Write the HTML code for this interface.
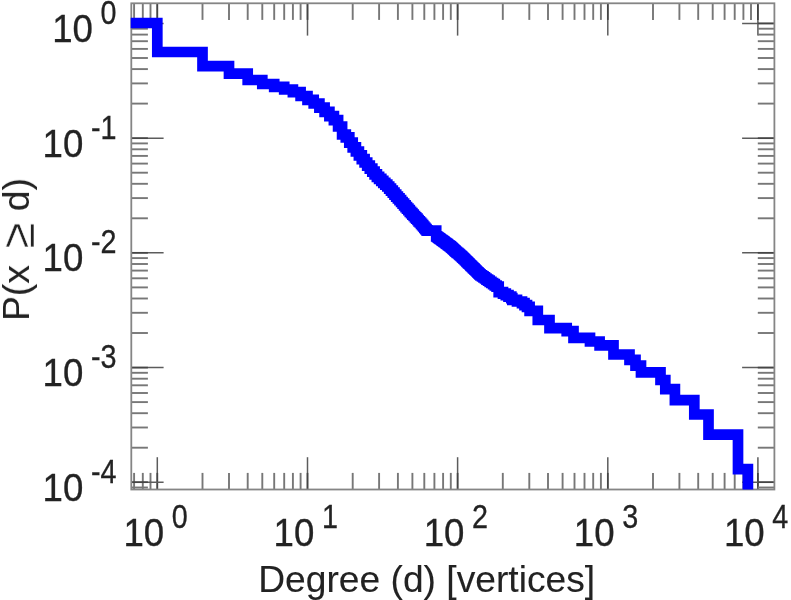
<!DOCTYPE html>
<html><head><meta charset="utf-8"><title>Degree distribution</title>
<style>
html,body{margin:0;padding:0;background:#fff;}
body{width:791px;height:600px;overflow:hidden;}
svg{display:block;}
text{font-family:"Liberation Sans",sans-serif;fill:#222;}
.tl{font-size:39.0px;stroke:#222;stroke-width:0.3px;}
.sp{font-size:32.3px;stroke:#222;stroke-width:0.3px;}
.ax{font-size:37.2px;stroke:#222;stroke-width:0.1px;}
.ge{font-size:47px;stroke:#fff;stroke-width:0.5px;}
.mj{stroke:#5c5c5c;stroke-width:1.5;}
.mo{stroke:#444;stroke-width:1.7;}
.mn{stroke:#777;stroke-width:1.9;}
.fr{fill:none;stroke:#858585;stroke-width:1.8;}
.ln{fill:none;stroke:#0000ff;stroke-width:10.7;stroke-linejoin:miter;stroke-miterlimit:10;stroke-linecap:butt;}
</style></head><body>
<svg width="791" height="600" viewBox="0 0 791 600">
<defs><filter id="b" filterUnits="userSpaceOnUse" x="0" y="0" width="791" height="600"><feGaussianBlur stdDeviation="0.4"/></filter><filter id="b2" filterUnits="userSpaceOnUse" x="0" y="0" width="791" height="600"><feGaussianBlur stdDeviation="0.55"/></filter><clipPath id="c"><rect x="130.7" y="3.3" width="643.7" height="486.2"/></clipPath></defs>
<rect width="791" height="600" fill="#fff"/>
<g filter="url(#b2)">
<line x1="134.1" y1="489.5" x2="134.1" y2="472.9" class="mn"/>
<line x1="134.1" y1="3.3" x2="134.1" y2="19.9" class="mn"/>
<line x1="142.8" y1="489.5" x2="142.8" y2="472.9" class="mn"/>
<line x1="142.8" y1="3.3" x2="142.8" y2="19.9" class="mn"/>
<line x1="150.5" y1="489.5" x2="150.5" y2="472.9" class="mn"/>
<line x1="150.5" y1="3.3" x2="150.5" y2="19.9" class="mn"/>
<line x1="157.3" y1="489.5" x2="157.3" y2="457.2" class="mj"/>
<line x1="157.3" y1="3.3" x2="157.3" y2="35.6" class="mj"/>
<line x1="157.3" y1="489.5" x2="157.3" y2="472.9" class="mo"/>
<line x1="157.3" y1="3.3" x2="157.3" y2="19.9" class="mo"/>
<line x1="202.5" y1="489.5" x2="202.5" y2="472.9" class="mn"/>
<line x1="202.5" y1="3.3" x2="202.5" y2="19.9" class="mn"/>
<line x1="229.0" y1="489.5" x2="229.0" y2="472.9" class="mn"/>
<line x1="229.0" y1="3.3" x2="229.0" y2="19.9" class="mn"/>
<line x1="247.7" y1="489.5" x2="247.7" y2="472.9" class="mn"/>
<line x1="247.7" y1="3.3" x2="247.7" y2="19.9" class="mn"/>
<line x1="262.3" y1="489.5" x2="262.3" y2="472.9" class="mn"/>
<line x1="262.3" y1="3.3" x2="262.3" y2="19.9" class="mn"/>
<line x1="274.2" y1="489.5" x2="274.2" y2="472.9" class="mn"/>
<line x1="274.2" y1="3.3" x2="274.2" y2="19.9" class="mn"/>
<line x1="284.2" y1="489.5" x2="284.2" y2="472.9" class="mn"/>
<line x1="284.2" y1="3.3" x2="284.2" y2="19.9" class="mn"/>
<line x1="292.9" y1="489.5" x2="292.9" y2="472.9" class="mn"/>
<line x1="292.9" y1="3.3" x2="292.9" y2="19.9" class="mn"/>
<line x1="300.6" y1="489.5" x2="300.6" y2="472.9" class="mn"/>
<line x1="300.6" y1="3.3" x2="300.6" y2="19.9" class="mn"/>
<line x1="307.5" y1="489.5" x2="307.5" y2="457.2" class="mj"/>
<line x1="307.5" y1="3.3" x2="307.5" y2="35.6" class="mj"/>
<line x1="307.5" y1="489.5" x2="307.5" y2="472.9" class="mo"/>
<line x1="307.5" y1="3.3" x2="307.5" y2="19.9" class="mo"/>
<line x1="352.7" y1="489.5" x2="352.7" y2="472.9" class="mn"/>
<line x1="352.7" y1="3.3" x2="352.7" y2="19.9" class="mn"/>
<line x1="379.1" y1="489.5" x2="379.1" y2="472.9" class="mn"/>
<line x1="379.1" y1="3.3" x2="379.1" y2="19.9" class="mn"/>
<line x1="397.9" y1="489.5" x2="397.9" y2="472.9" class="mn"/>
<line x1="397.9" y1="3.3" x2="397.9" y2="19.9" class="mn"/>
<line x1="412.4" y1="489.5" x2="412.4" y2="472.9" class="mn"/>
<line x1="412.4" y1="3.3" x2="412.4" y2="19.9" class="mn"/>
<line x1="424.3" y1="489.5" x2="424.3" y2="472.9" class="mn"/>
<line x1="424.3" y1="3.3" x2="424.3" y2="19.9" class="mn"/>
<line x1="434.4" y1="489.5" x2="434.4" y2="472.9" class="mn"/>
<line x1="434.4" y1="3.3" x2="434.4" y2="19.9" class="mn"/>
<line x1="443.1" y1="489.5" x2="443.1" y2="472.9" class="mn"/>
<line x1="443.1" y1="3.3" x2="443.1" y2="19.9" class="mn"/>
<line x1="450.8" y1="489.5" x2="450.8" y2="472.9" class="mn"/>
<line x1="450.8" y1="3.3" x2="450.8" y2="19.9" class="mn"/>
<line x1="457.6" y1="489.5" x2="457.6" y2="457.2" class="mj"/>
<line x1="457.6" y1="3.3" x2="457.6" y2="35.6" class="mj"/>
<line x1="457.6" y1="489.5" x2="457.6" y2="472.9" class="mo"/>
<line x1="457.6" y1="3.3" x2="457.6" y2="19.9" class="mo"/>
<line x1="502.8" y1="489.5" x2="502.8" y2="472.9" class="mn"/>
<line x1="502.8" y1="3.3" x2="502.8" y2="19.9" class="mn"/>
<line x1="529.3" y1="489.5" x2="529.3" y2="472.9" class="mn"/>
<line x1="529.3" y1="3.3" x2="529.3" y2="19.9" class="mn"/>
<line x1="548.0" y1="489.5" x2="548.0" y2="472.9" class="mn"/>
<line x1="548.0" y1="3.3" x2="548.0" y2="19.9" class="mn"/>
<line x1="562.6" y1="489.5" x2="562.6" y2="472.9" class="mn"/>
<line x1="562.6" y1="3.3" x2="562.6" y2="19.9" class="mn"/>
<line x1="574.5" y1="489.5" x2="574.5" y2="472.9" class="mn"/>
<line x1="574.5" y1="3.3" x2="574.5" y2="19.9" class="mn"/>
<line x1="584.5" y1="489.5" x2="584.5" y2="472.9" class="mn"/>
<line x1="584.5" y1="3.3" x2="584.5" y2="19.9" class="mn"/>
<line x1="593.2" y1="489.5" x2="593.2" y2="472.9" class="mn"/>
<line x1="593.2" y1="3.3" x2="593.2" y2="19.9" class="mn"/>
<line x1="600.9" y1="489.5" x2="600.9" y2="472.9" class="mn"/>
<line x1="600.9" y1="3.3" x2="600.9" y2="19.9" class="mn"/>
<line x1="607.8" y1="489.5" x2="607.8" y2="457.2" class="mj"/>
<line x1="607.8" y1="3.3" x2="607.8" y2="35.6" class="mj"/>
<line x1="607.8" y1="489.5" x2="607.8" y2="472.9" class="mo"/>
<line x1="607.8" y1="3.3" x2="607.8" y2="19.9" class="mo"/>
<line x1="653.0" y1="489.5" x2="653.0" y2="472.9" class="mn"/>
<line x1="653.0" y1="3.3" x2="653.0" y2="19.9" class="mn"/>
<line x1="679.4" y1="489.5" x2="679.4" y2="472.9" class="mn"/>
<line x1="679.4" y1="3.3" x2="679.4" y2="19.9" class="mn"/>
<line x1="698.2" y1="489.5" x2="698.2" y2="472.9" class="mn"/>
<line x1="698.2" y1="3.3" x2="698.2" y2="19.9" class="mn"/>
<line x1="712.7" y1="489.5" x2="712.7" y2="472.9" class="mn"/>
<line x1="712.7" y1="3.3" x2="712.7" y2="19.9" class="mn"/>
<line x1="724.6" y1="489.5" x2="724.6" y2="472.9" class="mn"/>
<line x1="724.6" y1="3.3" x2="724.6" y2="19.9" class="mn"/>
<line x1="734.7" y1="489.5" x2="734.7" y2="472.9" class="mn"/>
<line x1="734.7" y1="3.3" x2="734.7" y2="19.9" class="mn"/>
<line x1="743.4" y1="489.5" x2="743.4" y2="472.9" class="mn"/>
<line x1="743.4" y1="3.3" x2="743.4" y2="19.9" class="mn"/>
<line x1="751.0" y1="489.5" x2="751.0" y2="472.9" class="mn"/>
<line x1="751.0" y1="3.3" x2="751.0" y2="19.9" class="mn"/>
<line x1="757.9" y1="489.5" x2="757.9" y2="457.2" class="mj"/>
<line x1="757.9" y1="3.3" x2="757.9" y2="35.6" class="mj"/>
<line x1="757.9" y1="489.5" x2="757.9" y2="472.9" class="mo"/>
<line x1="757.9" y1="3.3" x2="757.9" y2="19.9" class="mo"/>
<line x1="131.3" y1="487.5" x2="147.9" y2="487.5" class="mn"/>
<line x1="774.4" y1="487.5" x2="757.8" y2="487.5" class="mn"/>
<line x1="131.3" y1="482.2" x2="163.6" y2="482.2" class="mj"/>
<line x1="774.4" y1="482.2" x2="742.1" y2="482.2" class="mj"/>
<line x1="131.3" y1="482.2" x2="147.9" y2="482.2" class="mo"/>
<line x1="774.4" y1="482.2" x2="757.8" y2="482.2" class="mo"/>
<line x1="131.3" y1="447.7" x2="147.9" y2="447.7" class="mn"/>
<line x1="774.4" y1="447.7" x2="757.8" y2="447.7" class="mn"/>
<line x1="131.3" y1="427.5" x2="147.9" y2="427.5" class="mn"/>
<line x1="774.4" y1="427.5" x2="757.8" y2="427.5" class="mn"/>
<line x1="131.3" y1="413.2" x2="147.9" y2="413.2" class="mn"/>
<line x1="774.4" y1="413.2" x2="757.8" y2="413.2" class="mn"/>
<line x1="131.3" y1="402.1" x2="147.9" y2="402.1" class="mn"/>
<line x1="774.4" y1="402.1" x2="757.8" y2="402.1" class="mn"/>
<line x1="131.3" y1="393.0" x2="147.9" y2="393.0" class="mn"/>
<line x1="774.4" y1="393.0" x2="757.8" y2="393.0" class="mn"/>
<line x1="131.3" y1="385.3" x2="147.9" y2="385.3" class="mn"/>
<line x1="774.4" y1="385.3" x2="757.8" y2="385.3" class="mn"/>
<line x1="131.3" y1="378.7" x2="147.9" y2="378.7" class="mn"/>
<line x1="774.4" y1="378.7" x2="757.8" y2="378.7" class="mn"/>
<line x1="131.3" y1="372.8" x2="147.9" y2="372.8" class="mn"/>
<line x1="774.4" y1="372.8" x2="757.8" y2="372.8" class="mn"/>
<line x1="131.3" y1="367.6" x2="163.6" y2="367.6" class="mj"/>
<line x1="774.4" y1="367.6" x2="742.1" y2="367.6" class="mj"/>
<line x1="131.3" y1="367.6" x2="147.9" y2="367.6" class="mo"/>
<line x1="774.4" y1="367.6" x2="757.8" y2="367.6" class="mo"/>
<line x1="131.3" y1="333.0" x2="147.9" y2="333.0" class="mn"/>
<line x1="774.4" y1="333.0" x2="757.8" y2="333.0" class="mn"/>
<line x1="131.3" y1="312.8" x2="147.9" y2="312.8" class="mn"/>
<line x1="774.4" y1="312.8" x2="757.8" y2="312.8" class="mn"/>
<line x1="131.3" y1="298.5" x2="147.9" y2="298.5" class="mn"/>
<line x1="774.4" y1="298.5" x2="757.8" y2="298.5" class="mn"/>
<line x1="131.3" y1="287.4" x2="147.9" y2="287.4" class="mn"/>
<line x1="774.4" y1="287.4" x2="757.8" y2="287.4" class="mn"/>
<line x1="131.3" y1="278.3" x2="147.9" y2="278.3" class="mn"/>
<line x1="774.4" y1="278.3" x2="757.8" y2="278.3" class="mn"/>
<line x1="131.3" y1="270.6" x2="147.9" y2="270.6" class="mn"/>
<line x1="774.4" y1="270.6" x2="757.8" y2="270.6" class="mn"/>
<line x1="131.3" y1="264.0" x2="147.9" y2="264.0" class="mn"/>
<line x1="774.4" y1="264.0" x2="757.8" y2="264.0" class="mn"/>
<line x1="131.3" y1="258.1" x2="147.9" y2="258.1" class="mn"/>
<line x1="774.4" y1="258.1" x2="757.8" y2="258.1" class="mn"/>
<line x1="131.3" y1="252.8" x2="163.6" y2="252.8" class="mj"/>
<line x1="774.4" y1="252.8" x2="742.1" y2="252.8" class="mj"/>
<line x1="131.3" y1="252.8" x2="147.9" y2="252.8" class="mo"/>
<line x1="774.4" y1="252.8" x2="757.8" y2="252.8" class="mo"/>
<line x1="131.3" y1="218.3" x2="147.9" y2="218.3" class="mn"/>
<line x1="774.4" y1="218.3" x2="757.8" y2="218.3" class="mn"/>
<line x1="131.3" y1="198.1" x2="147.9" y2="198.1" class="mn"/>
<line x1="774.4" y1="198.1" x2="757.8" y2="198.1" class="mn"/>
<line x1="131.3" y1="183.8" x2="147.9" y2="183.8" class="mn"/>
<line x1="774.4" y1="183.8" x2="757.8" y2="183.8" class="mn"/>
<line x1="131.3" y1="172.7" x2="147.9" y2="172.7" class="mn"/>
<line x1="774.4" y1="172.7" x2="757.8" y2="172.7" class="mn"/>
<line x1="131.3" y1="163.6" x2="147.9" y2="163.6" class="mn"/>
<line x1="774.4" y1="163.6" x2="757.8" y2="163.6" class="mn"/>
<line x1="131.3" y1="155.9" x2="147.9" y2="155.9" class="mn"/>
<line x1="774.4" y1="155.9" x2="757.8" y2="155.9" class="mn"/>
<line x1="131.3" y1="149.3" x2="147.9" y2="149.3" class="mn"/>
<line x1="774.4" y1="149.3" x2="757.8" y2="149.3" class="mn"/>
<line x1="131.3" y1="143.4" x2="147.9" y2="143.4" class="mn"/>
<line x1="774.4" y1="143.4" x2="757.8" y2="143.4" class="mn"/>
<line x1="131.3" y1="138.2" x2="163.6" y2="138.2" class="mj"/>
<line x1="774.4" y1="138.2" x2="742.1" y2="138.2" class="mj"/>
<line x1="131.3" y1="138.2" x2="147.9" y2="138.2" class="mo"/>
<line x1="774.4" y1="138.2" x2="757.8" y2="138.2" class="mo"/>
<line x1="131.3" y1="103.6" x2="147.9" y2="103.6" class="mn"/>
<line x1="774.4" y1="103.6" x2="757.8" y2="103.6" class="mn"/>
<line x1="131.3" y1="83.4" x2="147.9" y2="83.4" class="mn"/>
<line x1="774.4" y1="83.4" x2="757.8" y2="83.4" class="mn"/>
<line x1="131.3" y1="69.1" x2="147.9" y2="69.1" class="mn"/>
<line x1="774.4" y1="69.1" x2="757.8" y2="69.1" class="mn"/>
<line x1="131.3" y1="58.0" x2="147.9" y2="58.0" class="mn"/>
<line x1="774.4" y1="58.0" x2="757.8" y2="58.0" class="mn"/>
<line x1="131.3" y1="48.9" x2="147.9" y2="48.9" class="mn"/>
<line x1="774.4" y1="48.9" x2="757.8" y2="48.9" class="mn"/>
<line x1="131.3" y1="41.2" x2="147.9" y2="41.2" class="mn"/>
<line x1="774.4" y1="41.2" x2="757.8" y2="41.2" class="mn"/>
<line x1="131.3" y1="34.6" x2="147.9" y2="34.6" class="mn"/>
<line x1="774.4" y1="34.6" x2="757.8" y2="34.6" class="mn"/>
<line x1="131.3" y1="28.7" x2="147.9" y2="28.7" class="mn"/>
<line x1="774.4" y1="28.7" x2="757.8" y2="28.7" class="mn"/>
<line x1="131.3" y1="23.4" x2="163.6" y2="23.4" class="mj"/>
<line x1="774.4" y1="23.4" x2="742.1" y2="23.4" class="mj"/>
<line x1="131.3" y1="23.4" x2="147.9" y2="23.4" class="mo"/>
<line x1="774.4" y1="23.4" x2="757.8" y2="23.4" class="mo"/>
<rect class="fr" x="131.3" y="3.3" width="643.1" height="486.2"/>
</g>
<g filter="url(#b)">
<g clip-path="url(#c)"><path class="ln" d="M121.3,23.0 L157.3,23.0 L157.3,52.0 L202.5,52.0 L202.5,66.1 L229.0,66.1 L229.0,73.6 L247.7,73.6 L247.7,80.0 L262.3,80.0 L262.3,84.0 L274.2,84.0 L274.2,86.8 L284.2,86.8 L284.2,89.5 L292.9,89.5 L292.9,92.2 L300.6,92.2 L300.6,96.0 L307.5,96.0 L307.5,99.8 L313.7,99.8 L313.7,103.5 L319.4,103.5 L319.4,107.6 L324.6,107.6 L324.6,111.8 L329.4,111.8 L329.4,116.2 L333.9,116.2 L333.9,120.2 L338.1,120.2 L338.1,126.5 L342.1,126.5 L342.1,134.5 L345.8,134.5 L345.8,137.3 L349.3,137.3 L349.3,142.7 L352.7,142.7 L352.7,147.4 L355.9,147.4 L355.9,151.5 L358.9,151.5 L358.9,155.4 L361.8,155.4 L361.8,159.1 L364.6,159.1 L364.6,162.5 L367.2,162.5 L367.2,165.7 L369.8,165.7 L369.8,168.7 L372.3,168.7 L372.3,171.6 L374.6,171.6 L374.6,174.4 L376.9,174.4 L376.9,176.9 L379.1,176.9 L379.1,178.9 L381.3,178.9 L381.3,180.9 L383.3,180.9 L383.3,182.8 L385.3,182.8 L385.3,184.7 L387.3,184.7 L387.3,186.5 L389.2,186.5 L389.2,188.7 L391.0,188.7 L391.0,190.7 L392.8,190.7 L392.8,192.7 L394.5,192.7 L394.5,194.7 L396.2,194.7 L396.2,196.6 L397.9,196.6 L397.9,198.4 L399.5,198.4 L399.5,200.2 L401.1,200.2 L401.1,202.0 L402.6,202.0 L402.6,203.7 L404.1,203.7 L404.1,205.4 L405.6,205.4 L405.6,207.1 L407.0,207.1 L407.0,208.7 L408.4,208.7 L408.4,210.2 L409.8,210.2 L409.8,211.8 L411.1,211.8 L411.1,213.2 L412.4,213.2 L412.4,214.6 L413.7,214.6 L413.7,216.0 L415.0,216.0 L415.0,217.3 L416.2,217.3 L416.2,218.7 L417.5,218.7 L417.5,220.0 L418.6,220.0 L418.6,221.3 L419.8,221.3 L419.8,222.5 L421.0,222.5 L421.0,223.9 L422.1,223.9 L422.1,225.2 L423.2,225.2 L423.2,226.5 L424.3,226.5 L424.3,227.8 L425.4,227.8 L425.4,229.1 L426.5,229.1 L426.5,230.3 L427.5,230.3 L427.5,230.6 L428.5,230.6 L429.5,230.6 L430.5,230.6 L431.5,230.6 L432.5,230.6 L433.4,230.6 L434.4,230.6 L435.3,230.6 L436.2,230.6 L436.2,236.3 L437.1,236.3 L437.1,237.0 L438.0,237.0 L438.0,237.6 L438.9,237.6 L438.9,238.3 L439.7,238.3 L439.7,238.9 L440.6,238.9 L440.6,239.5 L441.4,239.5 L441.4,240.1 L442.3,240.1 L442.3,240.7 L443.1,240.7 L443.1,241.3 L443.9,241.3 L443.9,241.9 L444.7,241.9 L444.7,242.5 L445.5,242.5 L445.5,243.1 L446.3,243.1 L446.3,243.7 L447.0,243.7 L447.0,244.2 L447.8,244.2 L447.8,244.8 L448.5,244.8 L448.5,245.4 L449.3,245.4 L449.3,245.9 L450.0,245.9 L450.0,246.4 L450.8,246.4 L450.8,247.1 L451.5,247.1 L451.5,247.7 L452.2,247.7 L452.2,248.4 L452.9,248.4 L452.9,249.0 L453.6,249.0 L453.6,249.7 L454.3,249.7 L454.3,250.3 L455.0,250.3 L455.0,250.9 L455.6,250.9 L455.6,251.6 L456.3,251.6 L456.3,252.2 L457.0,252.2 L457.0,252.8 L457.6,252.8 L458.1,252.8 L458.1,253.5 L458.8,253.5 L458.8,254.2 L459.5,254.2 L459.5,254.8 L460.3,254.8 L460.3,255.5 L461.0,255.5 L461.0,256.2 L461.8,256.2 L461.8,256.9 L462.5,256.9 L462.5,257.6 L463.3,257.6 L463.3,258.3 L464.0,258.3 L464.0,259.0 L464.8,259.0 L464.8,259.8 L465.5,259.8 L465.5,260.5 L466.3,260.5 L466.3,261.3 L467.1,261.3 L467.1,262.1 L467.8,262.1 L467.8,262.8 L468.6,262.8 L468.6,263.6 L469.5,263.6 L469.5,264.5 L470.3,264.5 L470.3,265.3 L471.1,265.3 L471.1,266.1 L472.0,266.1 L472.0,267.0 L472.8,267.0 L472.8,267.8 L473.7,267.8 L473.7,268.7 L474.6,268.7 L474.6,269.6 L475.5,269.6 L475.5,270.5 L476.5,270.5 L476.5,271.5 L477.4,271.5 L477.4,272.4 L478.4,272.4 L478.4,273.4 L479.4,273.4 L479.4,274.4 L480.5,274.4 L480.5,275.4 L482.0,275.4 L482.0,276.4 L483.5,276.4 L483.5,277.4 L485.0,277.4 L485.0,278.5 L486.5,278.5 L486.5,279.6 L488.1,279.6 L488.1,280.7 L489.7,280.7 L489.7,281.9 L491.4,281.9 L491.4,283.0 L493.1,283.0 L493.1,284.2 L494.8,284.2 L494.8,285.5 L496.6,285.5 L496.6,286.7 L498.7,286.7 L498.7,292.1 L503.0,292.1 L503.0,293.6 L505.8,293.6 L505.8,295.1 L508.5,295.1 L508.5,296.6 L511.3,296.6 L511.3,298.2 L512.3,298.2 L512.3,299.8 L517.0,299.8 L517.0,301.5 L522.0,301.5 L522.0,303.2 L524.5,303.2 L524.5,305.1 L527.0,305.1 L527.0,306.9 L529.6,306.9 L529.6,310.9 L537.8,310.9 L537.8,320.0 L549.5,320.0 L549.5,328.1 L566.7,328.1 L566.7,331.1 L573.5,331.1 L573.5,337.8 L590.0,337.8 L590.0,341.5 L599.6,341.5 L599.6,345.4 L613.5,345.4 L613.5,354.5 L629.5,354.5 L629.5,359.8 L635.5,359.8 L635.5,365.6 L641.0,365.6 L641.0,372.3 L660.5,372.3 L660.5,380.0 L665.3,380.0 L665.3,389.1 L674.9,389.1 L674.9,400.2 L694.3,400.2 L694.3,414.5 L708.5,414.5 L708.5,434.7 L738.0,434.7 L738.0,469.2 L747.9,469.2 L747.9,509.5"/></g>
<g>
<text class="tl" text-anchor="end" transform="translate(92.91,41.85) scale(0.940,1)">10</text>
<text class="sp" transform="translate(100.51,23.85) scale(0.890,1)">0</text>
<text class="tl" text-anchor="end" transform="translate(83.34,156.55) scale(0.940,1)">10</text>
<text class="sp" transform="translate(90.94,138.55) scale(0.890,1)">-1</text>
<text class="tl" text-anchor="end" transform="translate(83.34,271.25) scale(0.940,1)">10</text>
<text class="sp" transform="translate(90.94,253.25) scale(0.890,1)">-2</text>
<text class="tl" text-anchor="end" transform="translate(83.34,385.95) scale(0.940,1)">10</text>
<text class="sp" transform="translate(90.94,367.95) scale(0.890,1)">-3</text>
<text class="tl" text-anchor="end" transform="translate(83.34,500.65) scale(0.940,1)">10</text>
<text class="sp" transform="translate(90.94,482.65) scale(0.890,1)">-4</text>
<text class="tl" text-anchor="end" transform="translate(164.15,546.40) scale(0.940,1)">10</text>
<text class="sp" transform="translate(171.75,528.40) scale(0.890,1)">0</text>
<text class="tl" text-anchor="end" transform="translate(314.29,546.40) scale(0.940,1)">10</text>
<text class="sp" transform="translate(321.89,528.40) scale(0.890,1)">1</text>
<text class="tl" text-anchor="end" transform="translate(464.43,546.40) scale(0.940,1)">10</text>
<text class="sp" transform="translate(472.03,528.40) scale(0.890,1)">2</text>
<text class="tl" text-anchor="end" transform="translate(614.57,546.40) scale(0.940,1)">10</text>
<text class="sp" transform="translate(622.17,528.40) scale(0.890,1)">3</text>
<text class="tl" text-anchor="end" transform="translate(764.71,546.40) scale(0.940,1)">10</text>
<text class="sp" transform="translate(772.31,528.40) scale(0.890,1)">4</text>
</g>
<text class="ax" x="426.7" y="592" text-anchor="middle">Degree (d) [vertices]</text>
<text class="ax" transform="translate(29.0,320.9) rotate(-90)">P(x <tspan class="ge" dx="6.5" dy="5.3">≥</tspan><tspan dx="1" dy="-5.3"> d)</tspan></text>
</g>
</svg>
</body></html>
